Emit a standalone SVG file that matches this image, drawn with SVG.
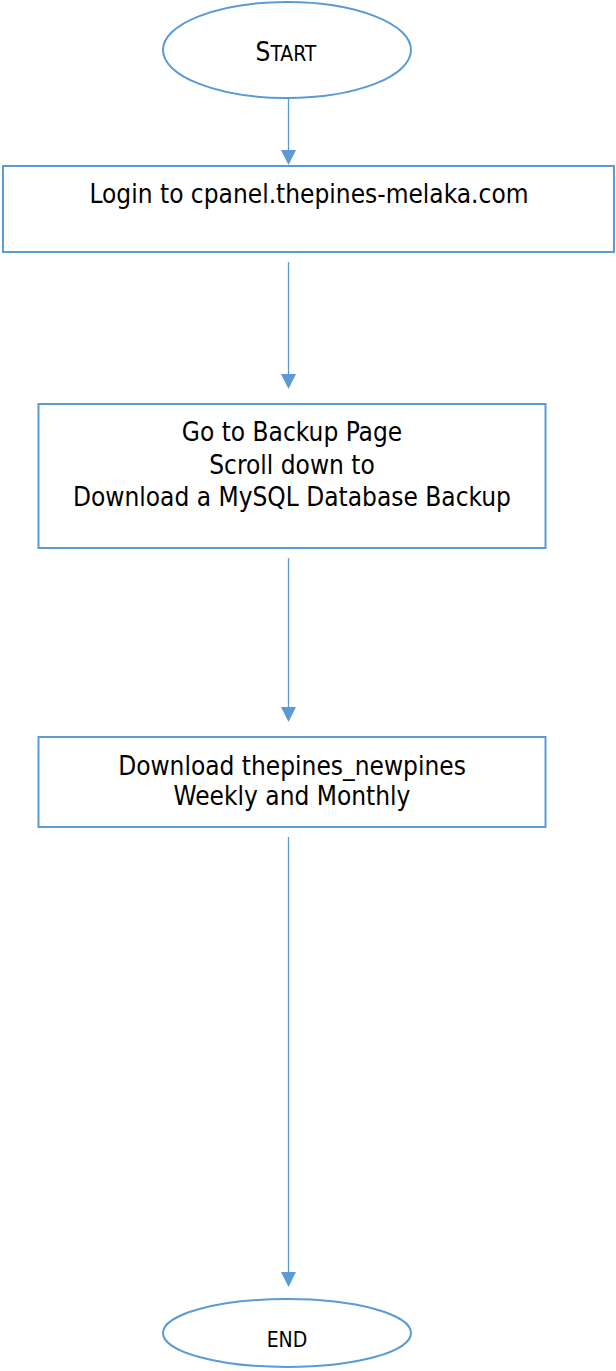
<svg xmlns="http://www.w3.org/2000/svg" width="616" height="1371" viewBox="0 0 616 1371">
<style>
.shape{fill:#FFFFFF;stroke:#5B9BD5;stroke-width:2}
.conn{stroke:#5B9BD5;stroke-width:1.3;fill:none}
.t{font-family:"DejaVu Sans Condensed","DejaVu Sans",sans-serif;font-size:26px;fill:#000000;text-anchor:middle}
.sc{font-size:21px}
</style>
<rect width="616" height="1371" fill="#FFFFFF"/>
<g id="connectors">
<line class="conn" x1="288.5" y1="98" x2="288.5" y2="152"/>
<path d="M281,150 L296,150 L288.5,165 Z" fill="#5B9BD5"/>
<line class="conn" x1="288.5" y1="262" x2="288.5" y2="376"/>
<path d="M281,374 L296,374 L288.5,389 Z" fill="#5B9BD5"/>
<line class="conn" x1="288.5" y1="558" x2="288.5" y2="709"/>
<path d="M281,707 L296,707 L288.5,722 Z" fill="#5B9BD5"/>
<line class="conn" x1="288.5" y1="837" x2="288.5" y2="1274"/>
<path d="M281,1272 L296,1272 L288.5,1287 Z" fill="#5B9BD5"/>
</g>
<g id="start">
<ellipse class="shape" cx="287" cy="50" rx="124" ry="48"/>
<text class="t" x="286" y="61">S<tspan class="sc">TART</tspan></text>
</g>
<g id="login">
<rect class="shape" x="3" y="166" width="611" height="86"/>
<text class="t" x="309" y="203">Login to cpanel.thepines-melaka.com</text>
</g>
<g id="backup">
<rect class="shape" x="38.5" y="404" width="507" height="144"/>
<text class="t" x="292" y="441">Go to Backup Page</text>
<text class="t" x="292" y="474">Scroll down to</text>
<text class="t" x="292" y="506">Download a MySQL Database Backup</text>
</g>
<g id="download">
<rect class="shape" x="38.5" y="737" width="507" height="90"/>
<text class="t" x="292" y="775">Download thepines_newpines</text>
<text class="t" x="292" y="805">Weekly and Monthly</text>
</g>
<g id="end">
<ellipse class="shape" cx="287" cy="1333" rx="124" ry="34"/>
<text class="t sc" x="287" y="1347">END</text>
</g>
</svg>
